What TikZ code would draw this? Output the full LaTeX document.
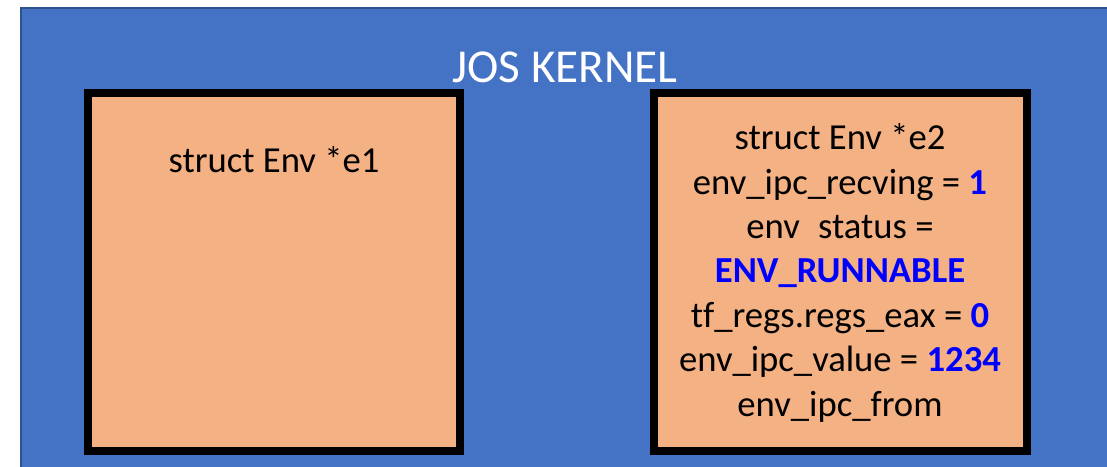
\documentclass[tikz,border=0pt]{standalone}
\usepackage{fontspec}
\setmainfont{Carlito}[Ligatures={NoCommon}]
\definecolor{kernelblue}{HTML}{4472C4}
\definecolor{kerneledge}{HTML}{2F528F}
\definecolor{envfill}{HTML}{F4B183}
\definecolor{valblue}{HTML}{0000FF}
\tikzset{
  envbox/.style={draw=black, fill=envfill, line width=8bp, minimum height=358bp, inner sep=0pt},
  boxtext/.style={anchor=base, inner sep=0pt, font=\fontsize{36.8}{44}\selectfont},
  titletext/.style={anchor=base, inner sep=0pt, text=white, font=\fontsize{47.4}{56}\selectfont},
}
\newcommand{\val}[1]{\textbf{\color{valblue}#1}}
\begin{document}
\begin{tikzpicture}[x=1bp, y=-1bp]
\useasboundingbox (0,0) rectangle (1107,467);
% kernel area
\fill[kernelblue, draw=kerneledge, line width=2bp] (21,8) rectangle (1120,480);
\node[titletext] (title) at (565,83) {JOS KERNEL};
% the two environments
\node[envbox, minimum width=372bp] (e1box) at (274,272) {};
\node[envbox, minimum width=373bp] (e2box) at (840.5,272) {};
\node[boxtext] (e1name) at (274,173) {struct Env *e1};
\node[boxtext] (e2name) at (840,150) {struct Env *e2};
\node[boxtext] (recving) at (840,195) {env\_ipc\_recving = \val{1}};
\node[boxtext] (status) at (840,239) {env\hphantom{\_}status =};
\node[boxtext] (runnable) at (840,283) {\val{ENV\_RUNNABLE}};
\node[boxtext] (eax) at (840,328) {tf\_regs.regs\_eax = \val{0}};
\node[boxtext] (value) at (840,372) {env\_ipc\_value = \val{1234}};
\node[boxtext] (from) at (840,417) {env\_ipc\_from};
\end{tikzpicture}
\end{document}
